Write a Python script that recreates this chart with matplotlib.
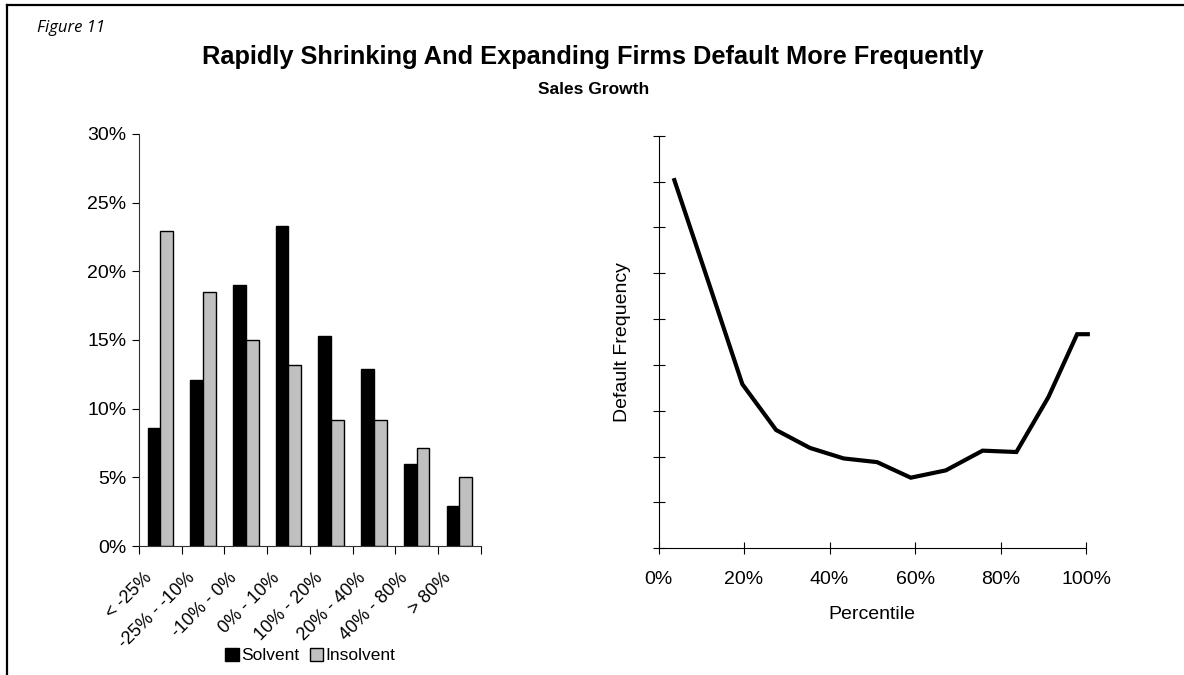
import numpy as np
import matplotlib.pyplot as plt
from matplotlib.lines import Line2D
from matplotlib.patches import Patch

plt.rcParams['font.family'] = ['Liberation Sans Narrow', 'Liberation Sans', 'DejaVu Sans']

# Left panel: sales growth buckets
categories = ['< -25%', '-25% - -10%', '-10% - 0%', '0% - 10%',
              '10% - 20%', '20% - 40%', '40% - 80%', '> 80%']
solvent = [8.6, 12.1, 19.0, 23.3, 15.3, 12.9, 6.0, 2.9]
insolvent = [22.9, 18.5, 15.0, 13.2, 9.2, 9.2, 7.1, 5.0]

# Right panel: default frequency by percentile
percentile = [0.037, 0.117, 0.196, 0.275, 0.354, 0.433, 0.511, 0.590,
              0.672, 0.758, 0.837, 0.912, 0.979, 1.004]
default_freq = [8.03, 5.80, 3.58, 2.58, 2.19, 1.96, 1.88, 1.54,
                1.70, 2.13, 2.10, 3.30, 4.67, 4.67]

fig = plt.figure(figsize=(11.84, 6.75), dpi=100)

# frame lines (top and left)
fig.add_artist(Line2D([0.0062, 1.0], [0.9925, 0.9925], color='black', lw=1.6))
fig.add_artist(Line2D([0.0062, 0.0062], [0.0, 0.9925], color='black', lw=1.6))

fig.text(0.031, 0.958, 'Figure 11', fontsize=12, style='italic', family='Open Sans',
         ha='left', va='center')
fig.text(0.501, 0.915, 'Rapidly Shrinking And Expanding Firms Default More Frequently',
         fontsize=18.3, weight='bold', ha='center', va='center')
fig.text(0.501, 0.867, 'Sales Growth', fontsize=12.5, weight='bold',
         ha='center', va='center')

# ---- bar chart ----
ax1 = fig.add_axes([0.1174, 0.1911, 0.2886, 0.6104])
x = np.arange(len(categories)) + 0.5
w = 0.3
ax1.bar(x - w / 2, solvent, w, color='black', edgecolor='black', lw=1)
ax1.bar(x + w / 2, insolvent, w, color='#c0c0c0', edgecolor='black', lw=1)
ax1.set_xlim(0, len(categories))
ax1.set_ylim(0, 30)
ax1.set_yticks(np.arange(0, 31, 5))
ax1.set_yticklabels([f'{v}%' for v in range(0, 31, 5)], fontsize=14)
ax1.set_xticks(np.arange(0, len(categories) + 1))
ax1.set_xticklabels([])
ax1.tick_params(axis='y', direction='out', length=5, width=0.8, pad=4)
ax1.tick_params(axis='x', direction='out', length=5.5, width=0.8)
for s in ['top', 'right']:
    ax1.spines[s].set_visible(False)
for s in ['left', 'bottom']:
    ax1.spines[s].set_linewidth(0.8)
    ax1.spines[s].set_color('#333333')
for xi, lab in zip(x, categories):
    ax1.annotate(lab, xy=(xi, 0), xycoords='data', xytext=(-8, -21),
                 textcoords='offset points', rotation=45, ha='right', va='center',
                 rotation_mode='anchor', fontsize=13, annotation_clip=False)

handles = [Patch(facecolor='black', edgecolor='black', label='Solvent'),
           Patch(facecolor='#c0c0c0', edgecolor='black', label='Insolvent')]
fig.legend(handles=handles, loc='center', bbox_to_anchor=(0.262, 0.029), ncol=2,
           frameon=False, fontsize=12.5, handlelength=0.8, handleheight=0.8,
           handletextpad=0.1, columnspacing=0.6)

# ---- line chart ----
ax2 = fig.add_axes([0.5562, 0.1877, 0.3611, 0.6113])
ax2.plot(percentile, default_freq, color='black', lw=3, clip_on=False,
         solid_joinstyle='miter')
ax2.set_xlim(0, 1)
ax2.set_ylim(0, 9)
ax2.set_yticks(np.arange(0, 10))
ax2.set_yticklabels([])
ax2.set_xticks(np.arange(0, 1.01, 0.2))
ax2.set_xticklabels([f'{int(round(v * 100))}%' for v in np.arange(0, 1.01, 0.2)],
                    fontsize=14)
ax2.tick_params(axis='both', direction='inout', length=9, width=0.8)
ax2.tick_params(axis='x', pad=12)
for s in ['top', 'right']:
    ax2.spines[s].set_visible(False)
for s in ['left', 'bottom']:
    ax2.spines[s].set_linewidth(0.8)
ax2.set_xlabel('Percentile', fontsize=14, labelpad=13)
ax2.set_ylabel('Default Frequency', fontsize=14, labelpad=12)

fig.savefig('out.png', dpi=100)
